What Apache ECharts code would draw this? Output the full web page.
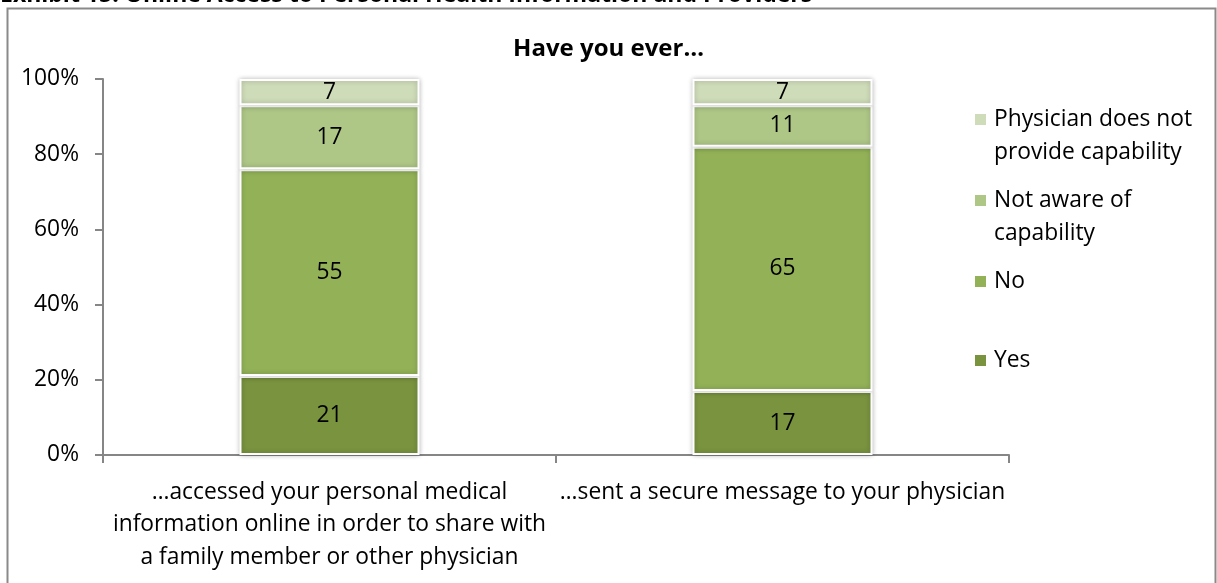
<!DOCTYPE html>
<html>
<head>
<meta charset="utf-8">
<script src="https://cdn.jsdelivr.net/npm/echarts@6/dist/echarts.min.js"></script>
<style>
  html, body { margin: 0; padding: 0; background: #fff; }
  #chart { width: 1217px; height: 583px; }
</style>
</head>
<body>
<div id="chart"></div>
<script>
// Survey results: share of respondents (%) per answer
const categories = [
  '…accessed your personal medical\ninformation online in order to share with\na family member or other physician',
  '…sent a secure message to your physician'
];
const yesValues = [21, 17];
const noValues = [55, 65];
const notAwareValues = [17, 11];
const notProvidedValues = [7, 7];
const yTicks = [0, 20, 40, 60, 80, 100];

const FONT = '"Open Sans", Lato, sans-serif';
const FS = 22.8;
const colors = {
  yes: '#79933f',
  no: '#93b257',
  notAware: '#aec787',
  notProvided: '#cfdcb9'
};

function barSeries(name, data, color) {
  return {
    name: name,
    type: 'bar',
    stack: 'total',
    barWidth: 180,
    data: data,
    itemStyle: {
      color: color,
      borderColor: '#ffffff',
      borderWidth: 2,
      shadowBlur: 5,
      shadowColor: 'rgba(0,0,0,0.28)'
    },
    label: {
      show: true,
      position: 'inside',
      color: '#000',
      fontFamily: FONT,
      fontSize: FS
    },
    emphasis: { disabled: true }
  };
}

// Legend icon with the square aligned to the first text line of a two-line entry
const tallIcon = 'path://M0,0L13,0L13,13L0,13Z M13,46L13,46Z';

function legendEntry(name, top, twoLines) {
  return {
    data: [{ name: name, icon: twoLines ? tallIcon : 'rect' }],
    left: 973,
    top: top,
    orient: 'vertical',
    itemWidth: 13,
    itemHeight: twoLines ? 46 : 13,
    itemGap: 0,
    padding: 0,
    selectedMode: false,
    formatter: function (n) {
      if (n === 'Physician does not provide capability') return 'Physician does not\nprovide capability';
      if (n === 'Not aware of capability') return 'Not aware of\ncapability';
      return n;
    },
    textStyle: {
      color: '#000',
      fontFamily: FONT,
      fontSize: FS,
      lineHeight: 33,
      padding: [0, 0, 0, 2]
    }
  };
}

const chart = echarts.init(document.getElementById('chart'), null, { renderer: 'canvas' });

chart.setOption({
  animation: false,
  backgroundColor: '#ffffff',
  title: {
    text: 'Have you ever…',
    left: 'center',
    top: 32,
    textStyle: { fontFamily: FONT, fontSize: 24, fontWeight: 'bold', color: '#000' }
  },
  graphic: [
    {
      type: 'rect',
      shape: { x: 7.5, y: 8.5, width: 1208, height: 620 },
      style: { fill: 'none', stroke: '#8a8a8a', lineWidth: 2 },
      silent: true
    },
    {
      type: 'text',
      left: 0,
      top: -16,
      style: {
        text: 'Exhibit 15: Online Access to Personal Health Information and Providers',
        fontFamily: FONT,
        fontSize: 23,
        fontWeight: 'bold',
        fill: '#000'
      },
      silent: true
    }
  ],
  legend: [
    legendEntry('Physician does not provide capability', 103, true),
    legendEntry('Not aware of capability', 184, true),
    legendEntry('No', 265, false),
    legendEntry('Yes', 344, false)
  ],
  grid: { left: 103, right: 208, top: 79, bottom: 128, containLabel: false },
  xAxis: {
    type: 'category',
    data: categories,
    axisLine: { show: true, lineStyle: { color: '#868686', width: 2 } },
    axisTick: { show: true, length: 8, lineStyle: { color: '#868686', width: 2 } },
    axisLabel: {
      interval: 0,
      margin: 21,
      color: '#000',
      fontFamily: FONT,
      fontSize: FS,
      lineHeight: 32.5,
      align: 'center'
    }
  },
  yAxis: {
    type: 'value',
    min: 0,
    max: 100,
    interval: 20,
    splitLine: { show: false },
    axisLine: { show: true, lineStyle: { color: '#868686', width: 2 } },
    axisTick: { show: true, length: 8, lineStyle: { color: '#868686', width: 2 } },
    axisLabel: {
      margin: 24,
      color: '#000',
      fontFamily: FONT,
      fontSize: FS,
      formatter: function (v) { return yTicks.indexOf(v) >= 0 ? v + '%' : ''; }
    }
  },
  series: [
    barSeries('Yes', yesValues, colors.yes),
    barSeries('No', noValues, colors.no),
    barSeries('Not aware of capability', notAwareValues, colors.notAware),
    barSeries('Physician does not provide capability', notProvidedValues, colors.notProvided)
  ]
});
</script>
</body>
</html>
